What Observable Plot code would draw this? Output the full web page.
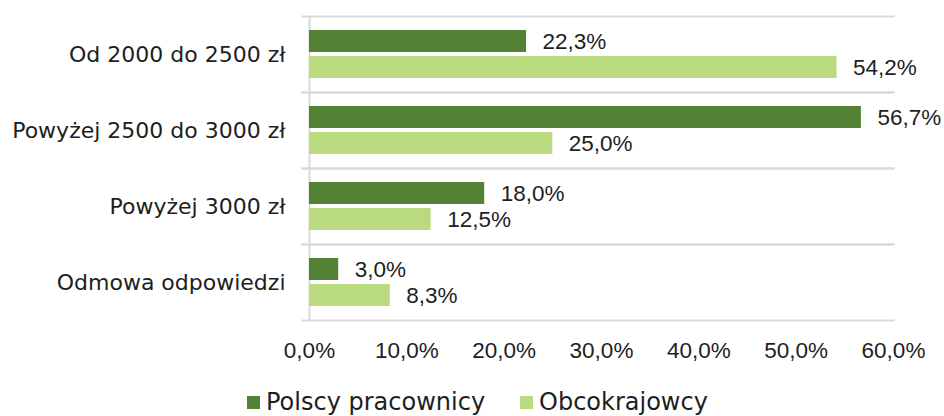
<!DOCTYPE html>
<html>
<head>
<meta charset="utf-8">
<script src="https://cdn.jsdelivr.net/npm/d3@7"></script>
<script src="https://cdn.jsdelivr.net/npm/@observablehq/plot@0.6"></script>
<style>
  html, body { margin: 0; padding: 0; background: #fff; }
  #chart { width: 944px; height: 416px; position: relative; overflow: hidden; }
  .legend { position: absolute; left: 0; top: 389px; width: 944px; height: 26px; font-family: "DejaVu Sans", sans-serif; font-size: 24px; line-height: 26px; color: #1e1e1e; }
  .legend .item { position: absolute; top: 0; height: 26px; display: flex; align-items: center; white-space: nowrap; }
  .legend .sw { width: 13px; height: 13px; margin-right: 6px; display: inline-block; }
</style>
</head>
<body>
<div id="chart"></div>
<script>
const categories = ["Od 2000 do 2500 zł", "Powyżej 2500 do 3000 zł", "Powyżej 3000 zł", "Odmowa odpowiedzi"];
const series = ["Polscy pracownicy", "Obcokrajowcy"];
const polishWorkers = [22.3, 56.7, 18.0, 3.0];
const foreigners = [54.2, 25.0, 12.5, 8.3];
const xTicks = [0, 10, 20, 30, 40, 50, 60];
const seriesColors = ["#548235", "#b9da7e"];

const fmt = v => v.toFixed(1).replace(".", ",") + "%";

const rows = [];
categories.forEach((c, i) => {
  rows.push({category: c, series: series[0], value: polishWorkers[i]});
  rows.push({category: c, series: series[1], value: foreigners[i]});
});

const textColor = "#1e1e1e";
const gridColor = "#d9d9d9";

const plot = Plot.plot({
  width: 944,
  height: 376,
  marginLeft: 309,
  marginRight: 51,
  marginTop: 15,
  marginBottom: 55,
  style: {fontFamily: "DejaVu Sans, sans-serif", color: textColor, background: "#fff"},
  x: {domain: [0, 60], axis: null},
  y: {domain: series, paddingInner: 0.15, paddingOuter: 0.49, axis: null},
  fy: {domain: categories, padding: 0, axis: null},
  color: {domain: series, range: seriesColors},
  marks: [
    Plot.frame({anchor: "top", stroke: gridColor, strokeWidth: 2, insetLeft: -7}),
    Plot.frame({anchor: "bottom", stroke: gridColor, strokeWidth: 2, insetLeft: -7}),
    Plot.ruleX([0], {stroke: gridColor, strokeWidth: 2}),
    Plot.barX(rows, {x: "value", y: "series", fy: "category", fill: "series"}),
    Plot.text(rows, {x: "value", y: "series", fy: "category", text: d => fmt(d.value), textAnchor: "start", dx: 16, fontSize: 22.5, fontFamily: "Liberation Sans, sans-serif", fill: textColor}),
    Plot.axisFy({anchor: "left", tickSize: 0, tickPadding: 24, fontSize: 22, label: null, fill: textColor}),
    Plot.axisX({ticks: xTicks, tickFormat: fmt, tickSize: 0, tickPadding: 22, fontSize: 22.5, fontFamily: "Liberation Sans, sans-serif", label: null, fill: textColor})
  ]
});

const chart = document.getElementById("chart");
chart.appendChild(plot);

const legend = document.createElement("div");
legend.className = "legend";
const lefts = [247, 520];
series.forEach((s, i) => {
  const item = document.createElement("div");
  item.className = "item";
  item.style.left = lefts[i] + "px";
  const sw = document.createElement("span");
  sw.className = "sw";
  sw.style.background = seriesColors[i];
  item.appendChild(sw);
  item.appendChild(document.createTextNode(s));
  legend.appendChild(item);
});
chart.appendChild(legend);
</script>
</body>
</html>
